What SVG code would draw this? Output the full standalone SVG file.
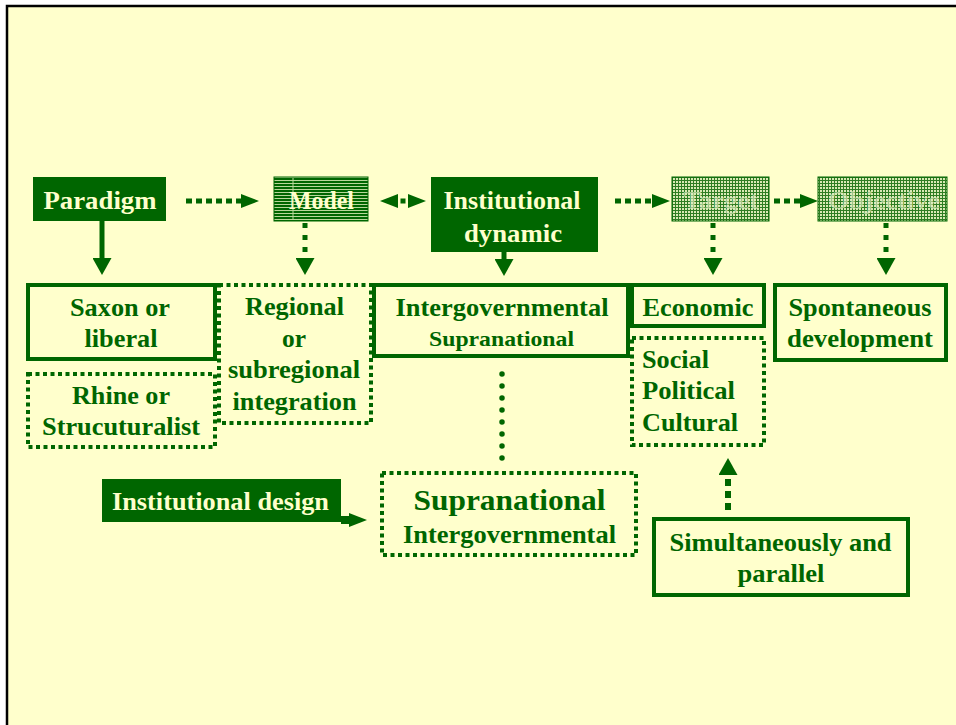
<svg xmlns="http://www.w3.org/2000/svg" width="956" height="725" viewBox="0 0 956 725">
  <style>
    text { font-family: "Liberation Serif", "Times New Roman", serif; font-weight: bold; font-size: 25px; }
    .dk { fill: #006600; }
    .lt { fill: #FFFFCC; }
    .faint { fill: #E4EFC4; fill-opacity: 0.65; }
    .mid { text-anchor: middle; }
    .solid { fill: none; stroke: #006600; stroke-width: 4; }
    .dotted { fill: none; stroke: #006600; stroke-width: 4; stroke-dasharray: 4 3.5; }
    .fillbox { fill: #006600; }
    .conn { fill: none; stroke: #006600; stroke-width: 5; }
    .dashH { stroke-dasharray: 6 4; }
    .dashV { stroke-dasharray: 5 7; }
  </style>
  <defs>
    <!-- striped fill for the Model box -->
    <pattern id="stripes" width="6" height="3" patternUnits="userSpaceOnUse">
      <rect width="6" height="3" fill="#006600"/>
      <rect width="6" height="1" fill="#B9D79A"/>
    </pattern>
    <!-- stippled grid fill for Target / Objective -->
    <pattern id="grid" width="3" height="3" patternUnits="userSpaceOnUse">
      <rect width="3" height="3" fill="#D9E9B4"/>
      <rect width="3" height="1" fill="#2E7D22"/>
      <rect width="1" height="3" fill="#2E7D22"/>
    </pattern>
    <marker id="headR" viewBox="0 0 18 14" refX="0" refY="7" markerWidth="18" markerHeight="14" markerUnits="userSpaceOnUse" orient="auto-start-reverse">
      <path d="M0,0 L18,7 L0,14 z" fill="#006600"/>
    </marker>
    <marker id="headD" viewBox="0 0 17 19" refX="0" refY="9.5" markerWidth="17" markerHeight="19" markerUnits="userSpaceOnUse" orient="auto">
      <path d="M0,0 L17,9.5 L0,19 z" fill="#006600"/>
    </marker>
  </defs>

  <!-- page -->
  <rect x="0" y="0" width="956" height="725" fill="#FFFFFF"/>
  <rect x="7" y="6" width="962" height="734" fill="#FFFFCC" stroke="#000000" stroke-width="2.5"/>

  <!-- top row -->
  <g id="paradigm">
    <rect class="fillbox" x="33" y="177" width="133" height="44"/>
    <text class="lt mid" x="100" y="209" textLength="113" lengthAdjust="spacingAndGlyphs">Paradigm</text>
  </g>
  <g id="model">
    <rect x="274" y="177" width="94" height="44" fill="url(#stripes)" stroke="#006600" stroke-width="1"/>
    <line x1="293" y1="178" x2="293" y2="220" stroke="#B9D79A" stroke-width="1"/>
    <text class="lt mid" x="321.5" y="209" textLength="65" lengthAdjust="spacingAndGlyphs">Model</text>
  </g>
  <g id="institutional-dynamic">
    <rect class="fillbox" x="431" y="177" width="167" height="75"/>
    <text class="lt mid" x="512" y="209" textLength="137" lengthAdjust="spacingAndGlyphs">Institutional</text>
    <text class="lt mid" x="513" y="242" textLength="98" lengthAdjust="spacingAndGlyphs">dynamic</text>
  </g>
  <g id="target">
    <rect x="672" y="177" width="97" height="44" fill="url(#grid)" stroke="#006600" stroke-width="1"/>
    <text class="faint mid" x="721" y="209" textLength="75" lengthAdjust="spacingAndGlyphs">Target</text>
  </g>
  <g id="objective">
    <rect x="818" y="177" width="129" height="44" fill="url(#grid)" stroke="#006600" stroke-width="1"/>
    <text class="faint mid" x="884" y="209" textLength="112" lengthAdjust="spacingAndGlyphs">Objective</text>
  </g>

  <!-- second row -->
  <g id="saxon">
    <rect class="solid" x="28" y="285" width="187" height="74"/>
    <text class="dk mid" x="120" y="316" textLength="100" lengthAdjust="spacingAndGlyphs">Saxon or</text>
    <text class="dk mid" x="121" y="347" textLength="73" lengthAdjust="spacingAndGlyphs">liberal</text>
  </g>
  <g id="rhine">
    <rect class="dotted" x="28" y="374" width="187" height="73"/>
    <text class="dk mid" x="121" y="404" textLength="98" lengthAdjust="spacingAndGlyphs">Rhine or</text>
    <text class="dk mid" x="121" y="435" textLength="158" lengthAdjust="spacingAndGlyphs">Strucuturalist</text>
  </g>
  <g id="regional">
    <rect class="dotted" x="219" y="285" width="152" height="138"/>
    <text class="dk mid" x="294.5" y="315" textLength="99" lengthAdjust="spacingAndGlyphs">Regional</text>
    <text class="dk mid" x="294" y="347" textLength="24" lengthAdjust="spacingAndGlyphs">or</text>
    <text class="dk mid" x="294" y="378" textLength="132" lengthAdjust="spacingAndGlyphs">subregional</text>
    <text class="dk mid" x="294.5" y="410" textLength="124" lengthAdjust="spacingAndGlyphs">integration</text>
  </g>
  <g id="intergovernmental">
    <rect class="solid" x="374" y="285" width="254" height="71"/>
    <text class="dk mid" x="502" y="315.5" textLength="213" lengthAdjust="spacingAndGlyphs">Intergovernmental</text>
    <text class="dk mid" x="501.5" y="345.5" style="font-size:22px" textLength="145" lengthAdjust="spacingAndGlyphs">Supranational</text>
  </g>
  <g id="economic">
    <rect class="solid" x="632" y="285" width="132" height="41"/>
    <text class="dk mid" x="698" y="315.5" textLength="111" lengthAdjust="spacingAndGlyphs">Economic</text>
  </g>
  <g id="social">
    <rect class="dotted" x="632" y="338" width="132" height="107"/>
    <text class="dk" x="642" y="368" textLength="67" lengthAdjust="spacingAndGlyphs">Social</text>
    <text class="dk" x="642" y="399" textLength="93" lengthAdjust="spacingAndGlyphs">Political</text>
    <text class="dk" x="642" y="431" textLength="96" lengthAdjust="spacingAndGlyphs">Cultural</text>
  </g>
  <g id="spontaneous">
    <rect class="solid" x="775" y="285" width="171" height="75"/>
    <text class="dk mid" x="860" y="316" textLength="143" lengthAdjust="spacingAndGlyphs">Spontaneous</text>
    <text class="dk mid" x="860" y="347" textLength="146" lengthAdjust="spacingAndGlyphs">development</text>
  </g>

  <!-- lower part -->
  <g id="institutional-design">
    <rect class="fillbox" x="102" y="479" width="239" height="43"/>
    <text class="lt" x="112" y="510" textLength="217" lengthAdjust="spacingAndGlyphs">Institutional design</text>
  </g>
  <g id="supranational">
    <rect class="dotted" x="382" y="473" width="254" height="82"/>
    <text class="dk mid" x="509.5" y="510" style="font-size:29px" textLength="192" lengthAdjust="spacingAndGlyphs">Supranational</text>
    <text class="dk mid" x="509.5" y="543" textLength="213" lengthAdjust="spacingAndGlyphs">Intergovernmental</text>
  </g>
  <g id="simultaneously">
    <rect class="solid" x="654" y="519" width="254" height="76"/>
    <text class="dk mid" x="780.5" y="551" textLength="222" lengthAdjust="spacingAndGlyphs">Simultaneously and</text>
    <text class="dk mid" x="781" y="582" textLength="87" lengthAdjust="spacingAndGlyphs">parallel</text>
  </g>

  <!-- connectors -->
  <g id="connectors">
    <path class="conn dashH" d="M186,201 H241" marker-end="url(#headR)"/>
    <path class="conn" d="M398,201 H408" style="stroke-dasharray:0 2.5 5 2.5" marker-start="url(#headR)" marker-end="url(#headR)"/>
    <path class="conn dashH" d="M615,201 H652" marker-end="url(#headR)"/>
    <path class="conn dashH" d="M774,201 H800" marker-end="url(#headR)"/>

    <path class="conn" d="M102,221 V258" marker-end="url(#headD)"/>
    <path class="conn dashV" d="M305,223 V258" marker-end="url(#headD)"/>
    <path class="conn" d="M504,252 V259" marker-end="url(#headD)"/>
    <path class="conn dashV" d="M713,223 V258" marker-end="url(#headD)"/>
    <path class="conn dashV" d="M886,223 V258" marker-end="url(#headD)"/>

    <path d="M502,374 V460" fill="none" stroke="#006600" stroke-width="5.5" stroke-linecap="round" stroke-dasharray="0 12"/>
    <path class="conn" d="M341,520 H349" style="stroke-width:8" marker-end="url(#headR)"/>
    <path class="conn" d="M728,510 V475" style="stroke-width:6;stroke-dasharray:7 5" marker-end="url(#headD)"/>
  </g>
</svg>
